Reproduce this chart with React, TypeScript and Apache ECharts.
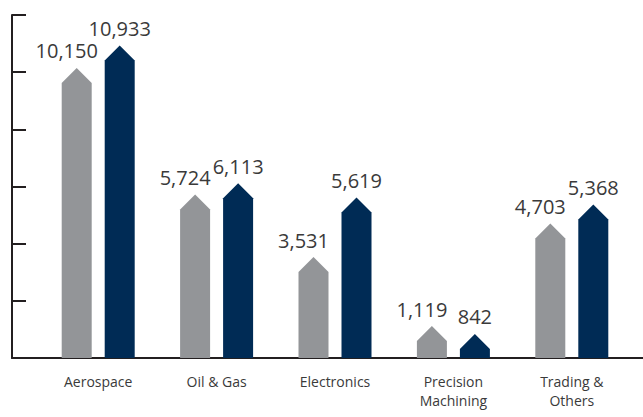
import React, { useEffect, useRef } from "react";
import * as echarts from "echarts";

const categories = ["Aerospace", "Oil & Gas", "Electronics", "Precision\nMachining", "Trading &\nOthers"];
const previousValues = [10150, 5724, 3531, 1119, 4703];
const currentValues = [10933, 6113, 5619, 842, 5368];
const yTicks = [0, 2000, 4000, 6000, 8000, 10000, 12000];

const GRAY = "#939598";
const NAVY = "#002b55";
const TEXT = "#3a3a3a";
const FONT = "'Open Sans', 'Noto Sans', sans-serif";

function makeRender(offset: number, color: string, labelShift: number) {
  return (params: any, api: any) => {
    const idx = api.value(0);
    const val = api.value(1);
    const top = api.coord([idx, val]);
    const base = api.coord([idx, 0]);
    const cx = top[0] + offset;
    const half = 15;
    const head = 15;
    const shoulder = Math.min(base[1], top[1] + head);
    const fmt = val.toLocaleString("en-US");
    return {
      type: "group",
      children: [
        {
          type: "polygon",
          shape: {
            points: [
              [cx - half, base[1]],
              [cx - half, shoulder],
              [cx, top[1]],
              [cx + half, shoulder],
              [cx + half, base[1]],
            ],
          },
          style: { fill: color },
        },
        {
          type: "text",
          x: cx + labelShift,
          y: top[1] - 7,
          style: {
            text: fmt,
            fill: TEXT,
            font: `20px ${FONT}`,
            align: "center",
            verticalAlign: "bottom",
          },
        },
      ],
    };
  };
}

export default function App() {
  const ref = useRef<HTMLDivElement>(null);
  useEffect(() => {
    if (!ref.current) return;
    const chart = echarts.init(ref.current, undefined, { renderer: "svg" });
    const axisColor = "#231f20";
    chart.setOption({
      animation: false,
      grid: [
        { left: 39, right: 12, top: 15, bottom: 59 },
        { left: 12, right: 0, top: 15, bottom: 59 },
      ],
      xAxis: [
        {
          type: "category",
          gridIndex: 0,
          data: categories,
          axisLine: { show: false },
          axisTick: { show: false },
          axisLabel: {
            color: TEXT,
            fontSize: 14,
            lineHeight: 19,
            fontFamily: FONT,
            margin: 14,
            interval: 0,
          },
        },
        {
          type: "category",
          gridIndex: 1,
          data: categories,
          axisLine: { show: true, lineStyle: { color: axisColor, width: 2 } },
          axisTick: { show: false },
          axisLabel: { show: false },
        },
      ],
      yAxis: [
        {
          type: "value",
          gridIndex: 0,
          min: 0,
          max: 12000,
          interval: 2000,
          show: false,
        },
        {
          type: "value",
          gridIndex: 1,
          min: yTicks[0],
          max: yTicks[yTicks.length - 1],
          interval: yTicks[1] - yTicks[0],
          axisLine: { show: true, lineStyle: { color: axisColor, width: 2 } },
          axisTick: { show: true, inside: true, length: 14, lineStyle: { color: axisColor, width: 2 } },
          axisLabel: { show: false },
          splitLine: { show: false },
        },
      ],
      series: [
        {
          type: "custom",
          xAxisIndex: 0,
          yAxisIndex: 0,
          renderItem: makeRender(-21.5, GRAY, -10),
          data: previousValues.map((v, i) => [i, v]),
        },
        {
          type: "custom",
          xAxisIndex: 0,
          yAxisIndex: 0,
          renderItem: makeRender(21.5, NAVY, 0),
          data: currentValues.map((v, i) => [i, v]),
        },
      ],
    });
    return () => chart.dispose();
  }, []);
  return (
    <div
      ref={ref}
      style={{ position: "absolute", left: 0, top: 0, width: 643, height: 417, background: "#fff" }}
    />
  );
}
